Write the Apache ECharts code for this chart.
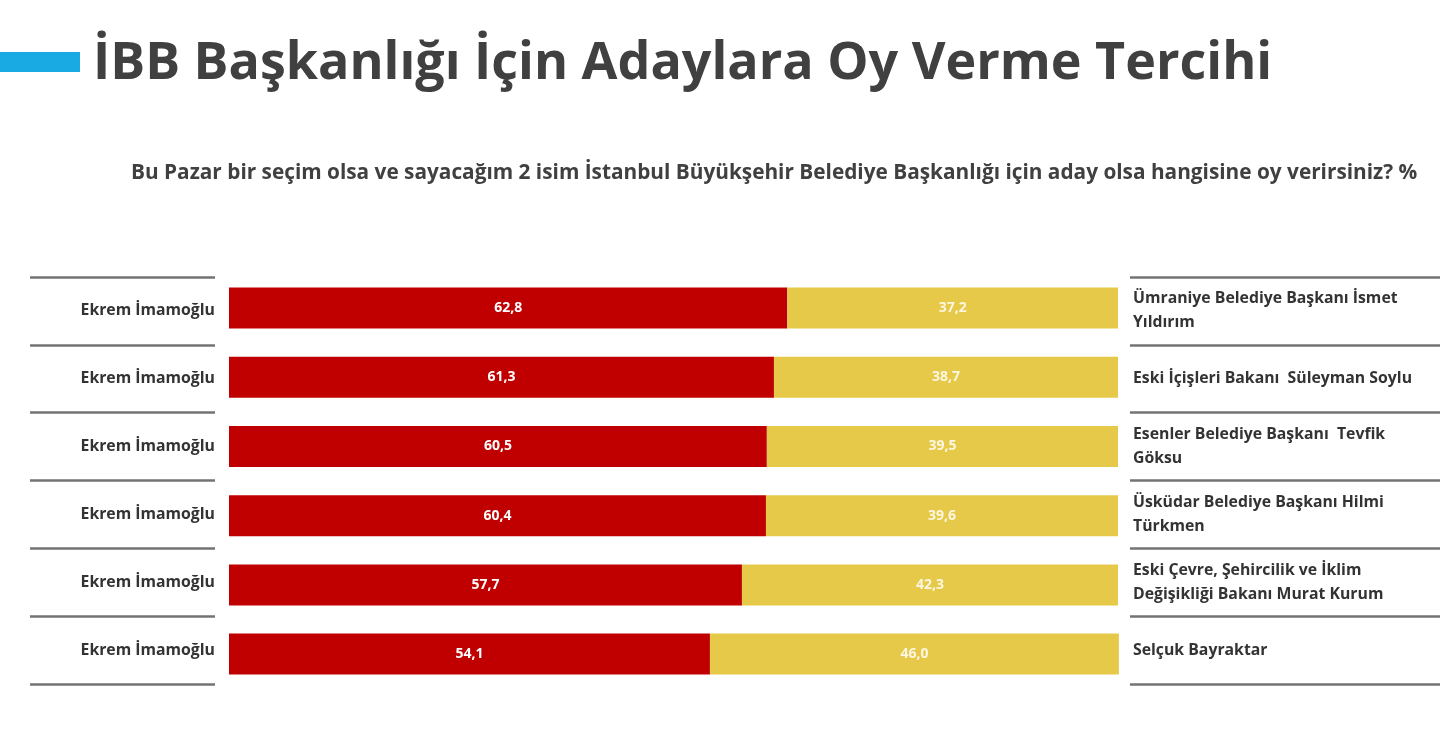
<!DOCTYPE html>
<html><head><meta charset="utf-8">
<script src="https://cdn.jsdelivr.net/npm/echarts@6/dist/echarts.min.js"></script>
<style>html,body{margin:0;padding:0;background:#fff}#c{width:1451px;height:730px}</style>
</head><body><div id="c"></div>
<script>
const leftLabels = ['Ekrem İmamoğlu','Ekrem İmamoğlu','Ekrem İmamoğlu','Ekrem İmamoğlu','Ekrem İmamoğlu','Ekrem İmamoğlu'];
const rightLabels = [
  'Ümraniye Belediye Başkanı İsmet\nYıldırım',
  'Eski İçişleri Bakanı  Süleyman Soylu',
  'Esenler Belediye Başkanı  Tevfik\nGöksu',
  'Üsküdar Belediye Başkanı Hilmi\nTürkmen',
  'Eski Çevre, Şehircilik ve İklim\nDeğişikliği Bakanı Murat Kurum',
  'Selçuk Bayraktar'
];
const imamogluValues = [62.8, 61.3, 60.5, 60.4, 57.7, 54.1];
const rivalValues = [37.2, 38.7, 39.5, 39.6, 42.3, 46.0];
const titleText = 'İBB Başkanlığı İçin Adaylara Oy Verme Tercihi';
const subtitleText = 'Bu Pazar bir seçim olsa ve sayacağım 2 isim İstanbul Büyükşehir Belediye Başkanlığı için aday olsa hangisine oy verirsiniz? %';

const fmt = v => v.toFixed(1).replace('.', ',');
const FONT = '"Open Sans", "Noto Sans", sans-serif';
const chart = echarts.init(document.getElementById('c'));
const idx = leftLabels.map((_, i) => i);
const sideAxis = (gi, labels, pos) => ({
  type: 'category', gridIndex: gi, data: labels, inverse: true, position: pos,
  axisLine: {show: false}, axisTick: {show: false},
  axisLabel: {inside: true, margin: pos === 'right' ? 0 : 3, color: '#333', fontFamily: FONT, fontWeight: 'bold', fontSize: 15.8, lineHeight: 24},
  splitLine: {show: true, lineStyle: {color: '#737373', width: 2.5}}
});
chart.setOption({
  backgroundColor: '#ffffff',
  animation: false,
  title: [
    {text: titleText, left: 88, top: 33, textStyle: {fontFamily: FONT, fontWeight: 'bold', fontSize: 52, color: '#404040'}},
    {text: subtitleText, left: 126, top: 158, textStyle: {fontFamily: FONT, fontWeight: 'bold', fontSize: 20.8, color: '#404040'}}
  ],
  graphic: [{type: 'rect', shape: {x: 0, y: 52, width: 80, height: 20}, style: {fill: '#19a9e3'}}],
  grid: [
    {left: 229, right: 333, top: 273.5, height: 415.2},
    {left: 30, width: 185, top: 277, height: 407},
    {left: 1130, width: 310, top: 277, height: 407}
  ],
  xAxis: [
    {type: 'value', gridIndex: 0, min: 0, max: 100, show: false},
    {type: 'value', gridIndex: 1, show: false},
    {type: 'value', gridIndex: 2, show: false}
  ],
  yAxis: [
    {type: 'category', gridIndex: 0, data: idx, inverse: true, show: false},
    sideAxis(1, leftLabels, 'right'),
    sideAxis(2, rightLabels, 'left')
  ],
  series: [
    {type: 'bar', stack: 'a', data: imamogluValues, barWidth: 41, itemStyle: {color: '#c00000'},
     label: {show: true, position: 'inside', color: '#fff', fontFamily: FONT, fontWeight: 'bold', fontSize: 14, formatter: p => fmt(p.value)}},
    {type: 'bar', stack: 'a', data: rivalValues, barWidth: 41, itemStyle: {color: '#e7c94a'}, clip: false,
     label: {show: true, position: 'inside', color: '#fdf6e0', fontFamily: FONT, fontWeight: 'bold', fontSize: 14, formatter: p => fmt(p.value)}}
  ]
});
</script></body></html>
